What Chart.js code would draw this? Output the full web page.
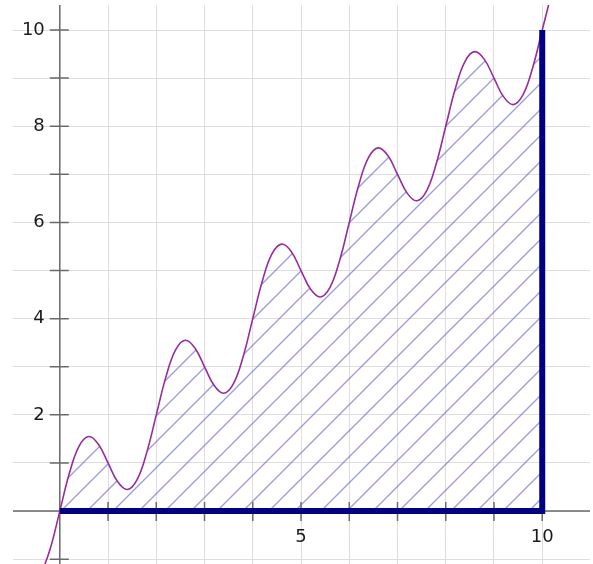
<!DOCTYPE html>
<html>
<head>
<meta charset="utf-8">
<script src="https://cdn.jsdelivr.net/npm/chart.js@4"></script>
<style>
  html, body { margin: 0; padding: 0; background: #fff; }
  #wrap { width: 593px; height: 564px; position: relative; }
</style>
</head>
<body>
<div id="wrap"><canvas id="chart"></canvas></div>
<script>
// curve samples
const curveX = [-0.4, -0.2, 0, 0.2, 0.4, 0.6, 0.8, 1.0, 1.2, 1.4, 1.6, 1.8,
  2.0, 2.2, 2.4, 2.6, 2.8, 3.0, 3.2, 3.4, 3.6, 3.8,
  4.0, 4.2, 4.4, 4.6, 4.8, 5.0, 5.2, 5.4, 5.6, 5.8,
  6.0, 6.2, 6.4, 6.6, 6.8, 7.0, 7.2, 7.4, 7.6, 7.8,
  8.0, 8.2, 8.4, 8.6, 8.8, 9.0, 9.2, 9.4, 9.6, 9.8, 10.0, 10.2];
const curveY = [-1.35, -0.79, 0, 0.79, 1.35, 1.55, 1.39, 1.0, 0.61, 0.45, 0.65, 1.21,
  2.0, 2.79, 3.35, 3.55, 3.39, 3.0, 2.61, 2.45, 2.65, 3.21,
  4.0, 4.79, 5.35, 5.55, 5.39, 5.0, 4.61, 4.45, 4.65, 5.21,
  6.0, 6.79, 7.35, 7.55, 7.39, 7.0, 6.61, 6.45, 6.65, 7.21,
  8.0, 8.79, 9.35, 9.55, 9.39, 9.0, 8.61, 8.45, 8.65, 9.21, 10.0, 10.79];

// shaded interval and its outline
const areaFrom = 0;
const areaTo = 10;
const outlineX = [0, 10, 10];
const outlineY = [0, 0, 10];

// axis ticks
const xTickMarks = [1, 2, 3, 4, 5, 6, 7, 8, 9, 10];
const yTickMarks = [-1, 1, 2, 3, 4, 5, 6, 7, 8, 9, 10];
const xTickLabels = [5, 10];
const yTickLabels = [2, 4, 6, 8, 10];

const curvePts = curveX.map((x, i) => ({x: x, y: curveY[i]}));
const areaPts = curvePts.filter(p => p.x >= areaFrom && p.x <= areaTo);
const outlinePts = outlineX.map((x, i) => ({x: x, y: outlineY[i]}));

// diagonal hatch
function hatch() {
  const s = 26;
  const c = document.createElement('canvas');
  c.width = s; c.height = s;
  const g = c.getContext('2d');
  g.strokeStyle = 'rgba(105, 105, 200, 0.65)';
  g.lineWidth = 1.4;
  g.beginPath();
  g.moveTo(0, s); g.lineTo(s, 0);
  g.moveTo(-2, 2); g.lineTo(2, -2);
  g.moveTo(s - 2, s + 2); g.lineTo(s + 2, s - 2);
  g.stroke();
  return g.createPattern(c, 'repeat');
}

const axesPlugin = {
  id: 'axes',
  beforeDatasetsDraw(chart) {
    const ctx = chart.ctx;
    const a = chart.chartArea;
    const xs = chart.scales.x, ys = chart.scales.y;
    const x0 = xs.getPixelForValue(0), y0 = ys.getPixelForValue(0);
    ctx.save();
    ctx.strokeStyle = '#6a6a6a';
    ctx.lineWidth = 1.5;
    ctx.beginPath();
    ctx.moveTo(a.left, y0); ctx.lineTo(a.right, y0);
    ctx.moveTo(x0, a.top); ctx.lineTo(x0, a.bottom);
    xTickMarks.forEach(v => {
      const px = xs.getPixelForValue(v);
      ctx.moveTo(px, y0 - 9); ctx.lineTo(px, y0 + 10);
    });
    yTickMarks.forEach(v => {
      const py = ys.getPixelForValue(v);
      ctx.moveTo(x0 - 10, py); ctx.lineTo(x0 + 9, py);
    });
    ctx.stroke();

    ctx.fillStyle = '#1a1a1a';
    ctx.font = '18px "DejaVu Sans", sans-serif';
    ctx.textAlign = 'center';
    ctx.textBaseline = 'middle';
    xTickLabels.forEach(v => {
      ctx.fillText(String(v), xs.getPixelForValue(v), y0 + 26);
    });
    ctx.textAlign = 'right';
    yTickLabels.forEach(v => {
      ctx.fillText(String(v), x0 - 15, ys.getPixelForValue(v));
    });
    ctx.restore();
  }
};

new Chart(document.getElementById('chart'), {
  type: 'line',
  data: {
    datasets: [
      {
        data: outlinePts,
        borderColor: '#000080',
        borderWidth: 6,
        borderCapStyle: 'butt',
        borderJoinStyle: 'miter',
        pointRadius: 0,
        tension: 0,
        fill: false,
        order: 1
      },
      {
        data: curvePts,
        borderColor: '#962c9e',
        borderWidth: 1.6,
        pointRadius: 0,
        tension: 0.4,
        fill: false,
        order: 2
      },
      {
        data: areaPts,
        borderWidth: 0,
        borderColor: 'rgba(0,0,0,0)',
        backgroundColor: hatch(),
        pointRadius: 0,
        tension: 0.4,
        fill: 'origin',
        order: 3
      }
    ]
  },
  options: {
    responsive: true,
    maintainAspectRatio: false,
    animation: false,
    layout: { padding: { left: 13, top: 5, right: 3, bottom: 0 } },
    plugins: { legend: { display: false }, tooltip: { enabled: false } },
    scales: {
      x: {
        type: 'linear',
        min: -0.97,
        max: 10.99,
        ticks: { display: false, stepSize: 1, includeBounds: false },
        grid: { color: '#dedede', lineWidth: 1, drawTicks: false },
        border: { display: false }
      },
      y: {
        type: 'linear',
        min: -1.1,
        max: 10.52,
        ticks: { display: false, stepSize: 1, includeBounds: false },
        grid: { color: '#dedede', lineWidth: 1, drawTicks: false },
        border: { display: false }
      }
    }
  },
  plugins: [axesPlugin]
});
</script>
</body>
</html>
